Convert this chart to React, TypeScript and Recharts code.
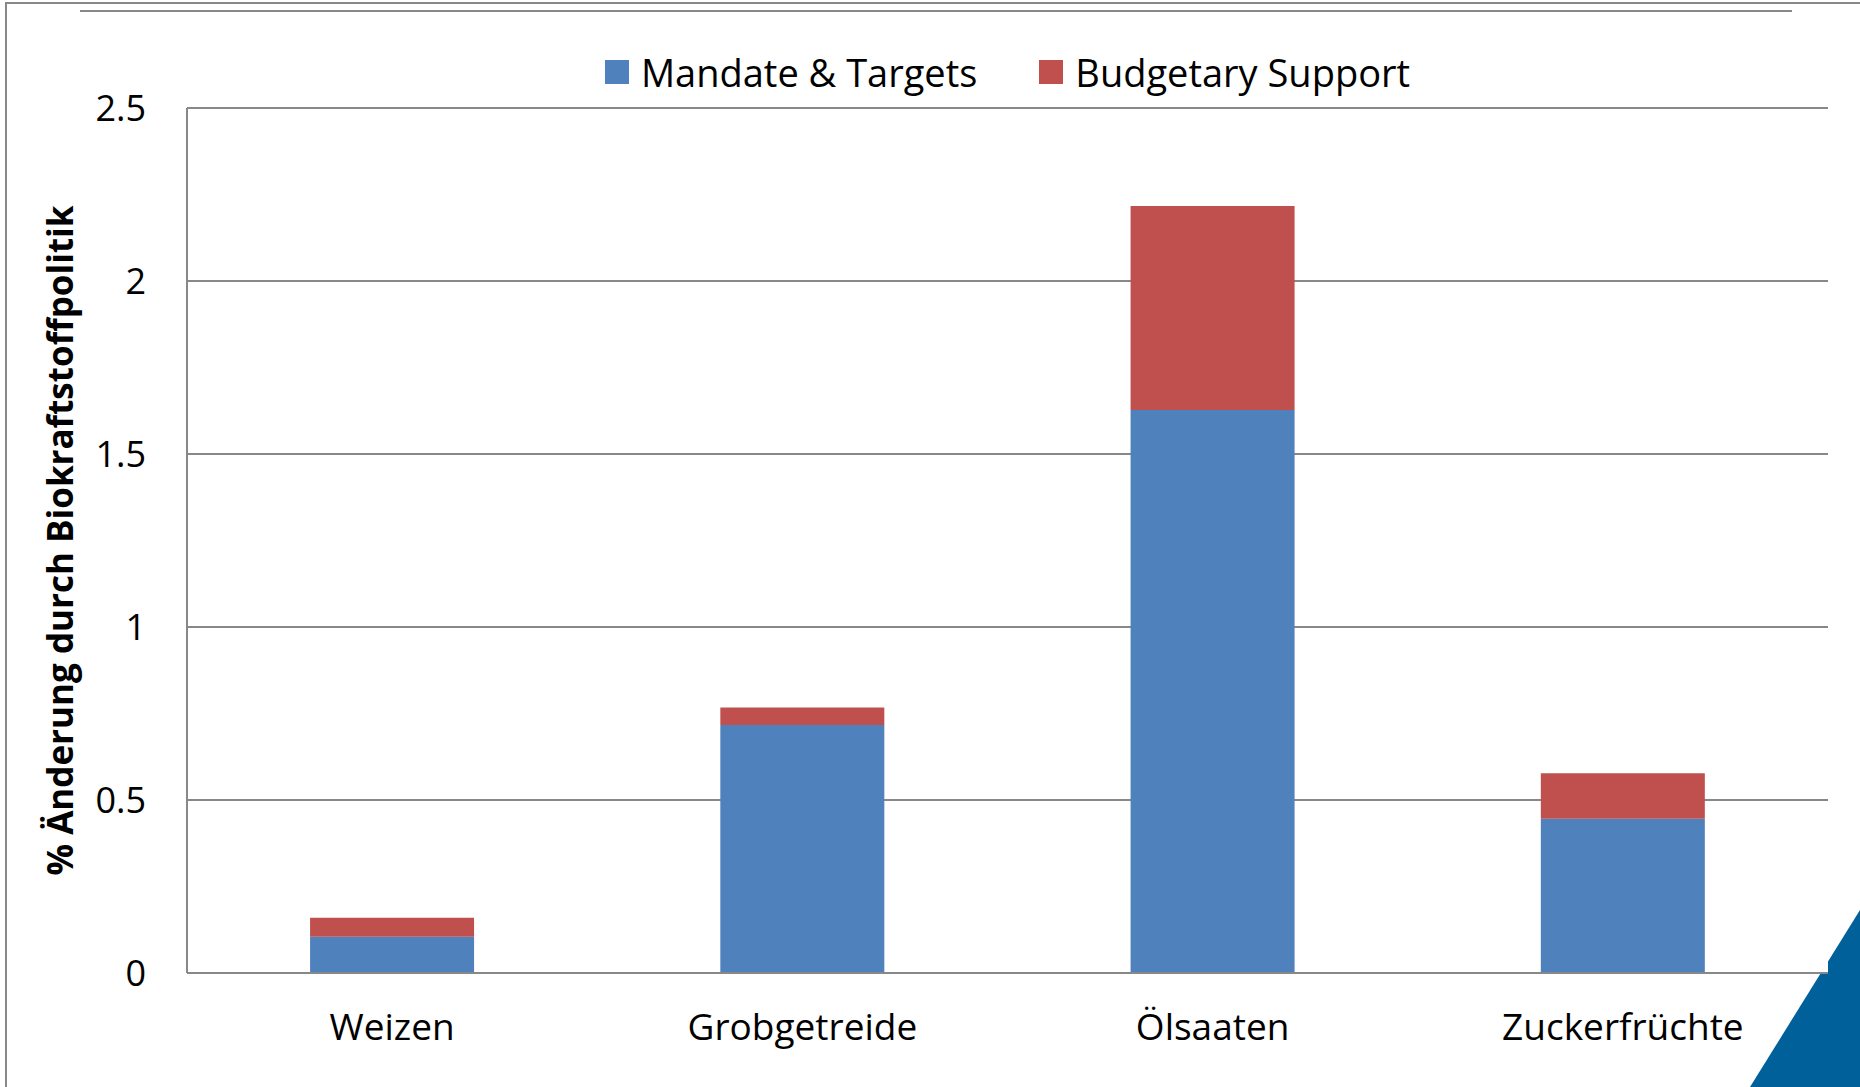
import React from 'react';
import { BarChart, Bar, XAxis, YAxis, CartesianGrid } from 'recharts';

const categories = ['Weizen', 'Grobgetreide', 'Ölsaaten', 'Zuckerfrüchte'];
const mandateTargets = [0.105, 0.717, 1.627, 0.446];
const budgetarySupport = [0.055, 0.05, 0.59, 0.131];
const yTicks = [0, 0.5, 1, 1.5, 2, 2.5];

const seriesNames = ['Mandate & Targets', 'Budgetary Support'];
const seriesColors = ['#4f81bd', '#c0504d'];

const data = categories.map((name, i) => ({
  name,
  mandate: mandateTargets[i],
  budget: budgetarySupport[i],
}));

const FONT = '"Open Sans", sans-serif';
const GRID = '#888888';

// legend drawn outside the chart so it does not shrink the plot area
const ChartLegend = () => (
  <div style={{ position: 'absolute', left: 187, top: 48, width: 1641, display: 'flex', justifyContent: 'center', alignItems: 'center', fontFamily: FONT, fontSize: 38, color: '#000', lineHeight: '48px' }}>
    {seriesNames.map((n, i) => (
      <div key={n} style={{ display: 'flex', alignItems: 'center', marginLeft: i === 0 ? 0 : 62 }}>
        <span style={{ display: 'inline-block', width: 24, height: 24, background: seriesColors[i], marginRight: 12 }} />
        <span>{n}</span>
      </div>
    ))}
  </div>
);

const YLabel = (props: any) => {
  const { viewBox } = props;
  const cx = viewBox.x + 59;
  const cy = viewBox.y + viewBox.height / 2;
  return (
    <text
      x={cx}
      y={cy}
      transform={`rotate(-90, ${cx}, ${cy})`}
      textAnchor="middle"
      dominantBaseline="central"
      fontFamily={FONT}
      fontWeight={700}
      fontSize={35}
      fill="#000"
    >
      % Änderung durch Biokraftstoffpolitik
    </text>
  );
};

export default function App() {
  return (
    <div style={{ position: 'absolute', top: 0, left: 0, width: 1860, height: 1087, background: '#fff', overflow: 'hidden' }}>
      {/* frame and decoration */}
      <div style={{ position: 'absolute', left: 5, top: 2, width: 1855, height: 2, background: GRID }} />
      <div style={{ position: 'absolute', left: 5, top: 2, width: 2, height: 1085, background: GRID }} />
      <div style={{ position: 'absolute', left: 80, top: 10, width: 1712, height: 2, background: GRID }} />
      <svg width={1860} height={1087} style={{ position: 'absolute', left: 0, top: 0 }}>
        <polygon points="1860,910 1750,1087 1860,1087" fill="#00609a" />
      </svg>
      <div style={{ position: 'absolute', left: 0, top: 0 }}>
        <BarChart
          width={1860}
          height={1087}
          data={data}
          margin={{ top: 108, right: 32, bottom: 84, left: 0 }}
          barCategoryGap="30%"
        >
          <CartesianGrid vertical={false} stroke={GRID} strokeWidth={2} fill="#ffffff" fillOpacity={1} />
          <XAxis
            dataKey="name"
            height={30}
            tickLine={false}
            tickSize={0}
            tickMargin={41}
            axisLine={{ stroke: GRID, strokeWidth: 2 }}
            tick={{ fontFamily: FONT, fontSize: 37, fill: '#000' }}
            interval={0}
          />
          <YAxis
            width={187}
            domain={[0, 2.5]}
            ticks={yTicks}
            tickLine={false}
            tickSize={0}
            tickMargin={41}
            axisLine={{ stroke: GRID, strokeWidth: 2 }}
            tick={{ fontFamily: FONT, fontSize: 36, fill: '#000' }}
            label={<YLabel />}
          />
          <Bar dataKey="mandate" name={seriesNames[0]} stackId="a" fill={seriesColors[0]} isAnimationActive={false} />
          <Bar dataKey="budget" name={seriesNames[1]} stackId="a" fill={seriesColors[1]} isAnimationActive={false} />
        </BarChart>
      </div>
      <ChartLegend />
    </div>
  );
}
